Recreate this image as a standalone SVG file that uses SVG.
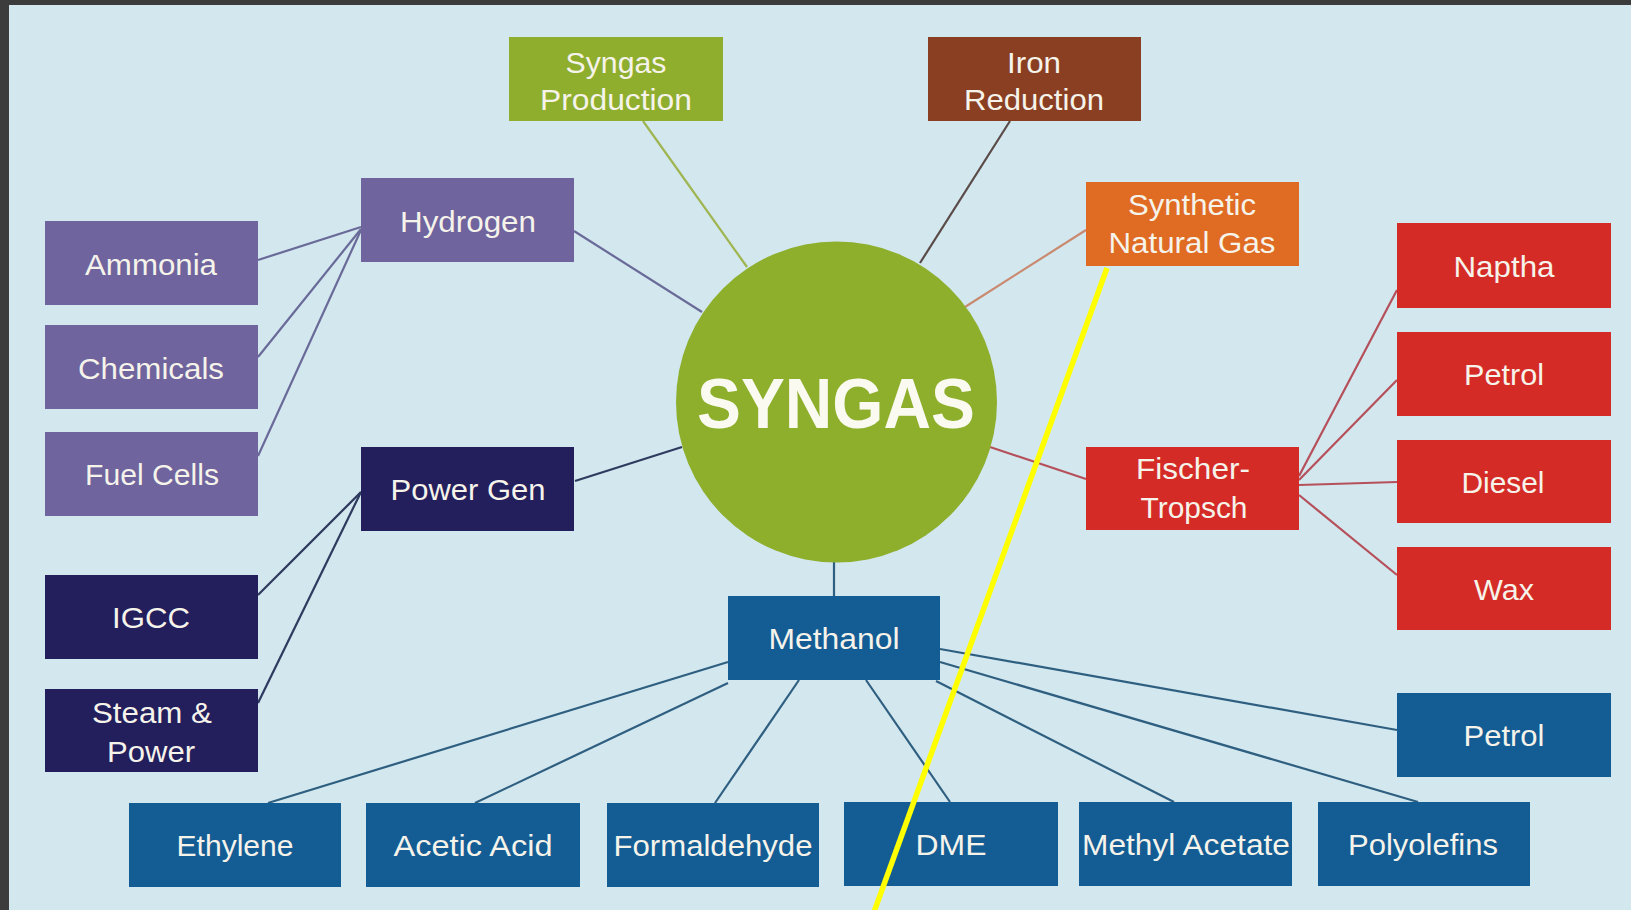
<svg xmlns="http://www.w3.org/2000/svg" width="1631" height="910" viewBox="0 0 1631 910">
<style>
.bg{fill:#d3e7ef}
.frame{fill:#3c3c3c}
.lbl{font-family:"Liberation Sans",Arial,Helvetica,sans-serif;font-size:30px;fill:#f5f3ea;text-anchor:middle}
.green{fill:#8fae2e}
.brown{fill:#8a3f22}
.orange{fill:#e06b23}
.purple{fill:#6f649e}
.navy{fill:#231e5c}
.red{fill:#d52b27}
.blue{fill:#135c94}
.c{fill:none;stroke-width:2.2}
.cg{stroke:#9fb550}
.cb{stroke:#5a4a48}
.co{stroke:#c98a70}
.cp{stroke:#6a6a98}
.cn{stroke:#2e3a5e}
.cr{stroke:#b5505a}
.cm{stroke:#2f5f80}
</style>
<rect class="bg" x="0" y="0" width="1631" height="910"/>
<rect class="frame" x="0" y="0" width="1631" height="5"/>
<rect class="frame" x="0" y="0" width="9" height="910"/>

<g id="connectors" class="c">
<line class="cg" x1="643" y1="121" x2="747" y2="267"/>
<line class="cb" x1="1010" y1="121" x2="920" y2="263"/>
<line class="co" x1="1086" y1="230" x2="965" y2="307"/>
<line class="cp" x1="574" y1="231" x2="702" y2="312"/>
<line class="cp" x1="258" y1="260" x2="361" y2="227"/>
<line class="cp" x1="258" y1="357" x2="361" y2="229"/>
<line class="cp" x1="258" y1="456" x2="361" y2="230"/>
<line class="cn" x1="575" y1="481" x2="682" y2="447"/>
<line class="cn" x1="258" y1="595" x2="361" y2="492"/>
<line class="cn" x1="258" y1="703" x2="361" y2="492"/>
<line class="cr" x1="990" y1="447" x2="1086" y2="479"/>
<line class="cr" x1="1299" y1="476" x2="1397" y2="290"/>
<line class="cr" x1="1299" y1="480" x2="1397" y2="380"/>
<line class="cr" x1="1299" y1="485" x2="1397" y2="482"/>
<line class="cr" x1="1299" y1="495" x2="1397" y2="575"/>
<line class="cm" x1="834" y1="560" x2="834" y2="596"/>
<line class="cm" x1="728" y1="662" x2="268" y2="803"/>
<line class="cm" x1="728" y1="683" x2="475" y2="803"/>
<line class="cm" x1="799" y1="680" x2="715" y2="803"/>
<line class="cm" x1="866" y1="680" x2="950" y2="802"/>
<line class="cm" x1="936" y1="681" x2="1174" y2="802"/>
<line class="cm" x1="940" y1="662" x2="1418" y2="802"/>
<line class="cm" x1="940" y1="649" x2="1397" y2="730"/>
</g>

<g id="syngas">
<circle cx="836.5" cy="402" r="160.5" fill="#8daf2c"/>
<text x="836" y="428" font-family="'Liberation Sans',Arial,Helvetica,sans-serif" font-weight="bold" font-size="71" fill="#fbfaf0" text-anchor="middle" textLength="278" lengthAdjust="spacingAndGlyphs">SYNGAS</text>
</g>

<g id="syngas-production"><rect class="green" x="509" y="37" width="214" height="84"/>
<text class="lbl" x="616" y="73" textLength="101" lengthAdjust="spacingAndGlyphs">Syngas</text>
<text class="lbl" x="616" y="110" textLength="152" lengthAdjust="spacingAndGlyphs">Production</text></g>

<g id="iron-reduction"><rect class="brown" x="928" y="37" width="213" height="84"/>
<text class="lbl" x="1034" y="73" textLength="54" lengthAdjust="spacingAndGlyphs">Iron</text>
<text class="lbl" x="1034" y="110" textLength="140" lengthAdjust="spacingAndGlyphs">Reduction</text></g>

<g id="synthetic-natural-gas"><rect class="orange" x="1086" y="182" width="213" height="84"/>
<text class="lbl" x="1192" y="215" textLength="128" lengthAdjust="spacingAndGlyphs">Synthetic</text>
<text class="lbl" x="1192" y="253" textLength="167" lengthAdjust="spacingAndGlyphs">Natural Gas</text></g>

<g id="hydrogen"><rect class="purple" x="361" y="178" width="213" height="84"/>
<text class="lbl" x="468" y="232" textLength="136" lengthAdjust="spacingAndGlyphs">Hydrogen</text></g>

<g id="ammonia"><rect class="purple" x="45" y="221" width="213" height="84"/>
<text class="lbl" x="151" y="275" textLength="132" lengthAdjust="spacingAndGlyphs">Ammonia</text></g>

<g id="chemicals"><rect class="purple" x="45" y="325" width="213" height="84"/>
<text class="lbl" x="151" y="379" textLength="146" lengthAdjust="spacingAndGlyphs">Chemicals</text></g>

<g id="fuel-cells"><rect class="purple" x="45" y="432" width="213" height="84"/>
<text class="lbl" x="152" y="485" textLength="134" lengthAdjust="spacingAndGlyphs">Fuel Cells</text></g>

<g id="power-gen"><rect class="navy" x="361" y="447" width="213" height="84"/>
<text class="lbl" x="468" y="500" textLength="155" lengthAdjust="spacingAndGlyphs">Power Gen</text></g>

<g id="igcc"><rect class="navy" x="45" y="575" width="213" height="84"/>
<text class="lbl" x="151" y="628" textLength="78" lengthAdjust="spacingAndGlyphs">IGCC</text></g>

<g id="steam-power"><rect class="navy" x="45" y="689" width="213" height="83"/>
<text class="lbl" x="152" y="723" textLength="120" lengthAdjust="spacingAndGlyphs">Steam &amp;</text>
<text class="lbl" x="151" y="762" textLength="88" lengthAdjust="spacingAndGlyphs">Power</text></g>

<g id="methanol"><rect class="blue" x="728" y="596" width="212" height="84"/>
<text class="lbl" x="834" y="649" textLength="131" lengthAdjust="spacingAndGlyphs">Methanol</text></g>

<g id="ethylene"><rect class="blue" x="129" y="803" width="212" height="84"/>
<text class="lbl" x="235" y="856" textLength="117" lengthAdjust="spacingAndGlyphs">Ethylene</text></g>

<g id="acetic-acid"><rect class="blue" x="366" y="803" width="214" height="84"/>
<text class="lbl" x="473" y="856" textLength="159" lengthAdjust="spacingAndGlyphs">Acetic Acid</text></g>

<g id="formaldehyde"><rect class="blue" x="607" y="803" width="212" height="84"/>
<text class="lbl" x="713" y="856" textLength="199" lengthAdjust="spacingAndGlyphs">Formaldehyde</text></g>

<g id="dme"><rect class="blue" x="844" y="802" width="214" height="84"/>
<text class="lbl" x="951" y="855" textLength="71" lengthAdjust="spacingAndGlyphs">DME</text></g>

<g id="methyl-acetate"><rect class="blue" x="1079" y="802" width="213" height="84"/>
<text class="lbl" x="1186" y="855" textLength="208" lengthAdjust="spacingAndGlyphs">Methyl Acetate</text></g>

<g id="polyolefins"><rect class="blue" x="1318" y="802" width="212" height="84"/>
<text class="lbl" x="1423" y="855" textLength="150" lengthAdjust="spacingAndGlyphs">Polyolefins</text></g>

<g id="petrol-methanol"><rect class="blue" x="1397" y="693" width="214" height="84"/>
<text class="lbl" x="1504" y="746" textLength="81" lengthAdjust="spacingAndGlyphs">Petrol</text></g>

<g id="fischer-tropsch"><rect class="red" x="1086" y="447" width="213" height="83"/>
<text class="lbl" x="1193" y="479" textLength="114" lengthAdjust="spacingAndGlyphs">Fischer-</text>
<text class="lbl" x="1194" y="518" textLength="107" lengthAdjust="spacingAndGlyphs">Tropsch</text></g>

<g id="naptha"><rect class="red" x="1397" y="223" width="214" height="85"/>
<text class="lbl" x="1504" y="277" textLength="101" lengthAdjust="spacingAndGlyphs">Naptha</text></g>

<g id="petrol-ft"><rect class="red" x="1397" y="332" width="214" height="84"/>
<text class="lbl" x="1504" y="385" textLength="80" lengthAdjust="spacingAndGlyphs">Petrol</text></g>

<g id="diesel"><rect class="red" x="1397" y="440" width="214" height="83"/>
<text class="lbl" x="1503" y="493" textLength="83" lengthAdjust="spacingAndGlyphs">Diesel</text></g>

<g id="wax"><rect class="red" x="1397" y="547" width="214" height="83"/>
<text class="lbl" x="1504" y="600" textLength="60" lengthAdjust="spacingAndGlyphs">Wax</text></g>

<line id="highlight" x1="1107" y1="268" x2="874" y2="912" stroke="#ffff00" stroke-width="5.5"/>
</svg>
